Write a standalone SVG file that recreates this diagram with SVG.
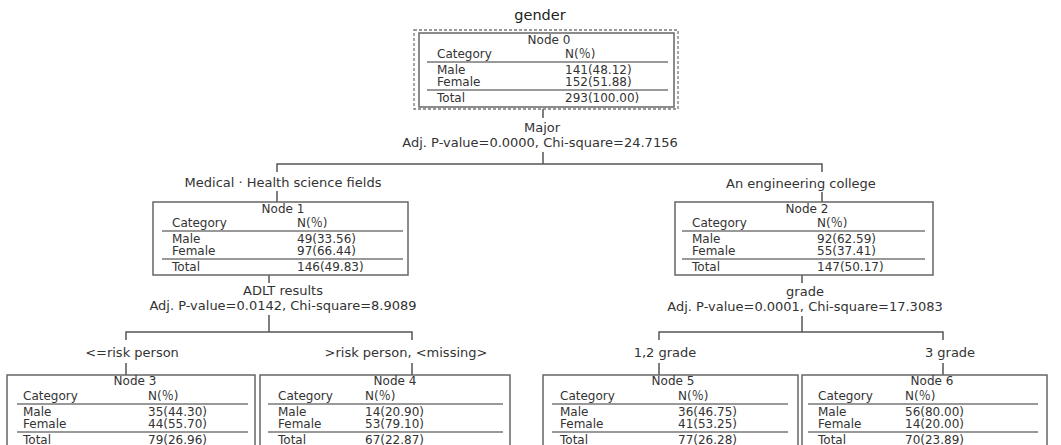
<svg xmlns="http://www.w3.org/2000/svg" width="1061" height="445" viewBox="0 0 1061 445">
<style>
text{font-family:"DejaVu Sans","Noto Sans CJK KR",sans-serif;fill:#333;}
.lbl{font-size:13px;text-anchor:middle;}
.ttl{font-size:14.5px;text-anchor:middle;fill:#222;}
.nt{font-size:12px;}
.c{text-anchor:middle;}
.fw{font-family:"Noto Sans CJK KR","Noto Sans CJK SC",sans-serif;}
.box{fill:#fff;stroke:#666;stroke-width:1.5;}
.dash{fill:none;stroke:#777;stroke-width:1.3;stroke-dasharray:3 2;}
.sep{stroke:#777;stroke-width:1.3;}
.con{fill:none;stroke:#555;stroke-width:1.5;}
</style>
<rect width="1061" height="445" fill="#fff"/>
<text class="ttl" x="540" y="20">gender</text>

<g id="connectors">
<path class="con" d="M543,109V118M543,152V164M277,172V164H822V172M277,191V202M822,192V202"/>
<path class="con" d="M269,275V283M269,315V332M126,340V332H412V340M126,363V375M412,363V375"/>
<path class="con" d="M802,275V283M802,316V332M659,340V332H943V340M659,363V375M943,363V375"/>
<text class="lbl" x="542" y="132">Major</text>
<text class="lbl" x="540" y="147">Adj. P-value=0.0000, Chi-square=24.7156</text>
<text class="lbl" x="283" y="187">Medical · Health science fields</text>
<text class="lbl" x="801" y="188">An engineering college</text>
<text class="lbl" x="283" y="295">ADLT results</text>
<text class="lbl" x="283" y="310">Adj. P-value=0.0142, Chi-square=8.9089</text>
<text class="lbl" x="805" y="296">grade</text>
<text class="lbl" x="805" y="311">Adj. P-value=0.0001, Chi-square=17.3083</text>
<text class="lbl" x="132" y="357">&lt;=risk person</text>
<text class="lbl" x="406" y="357">&gt;risk person, &lt;missing&gt;</text>
<text class="lbl" x="665" y="357">1,2 grade</text>
<text class="lbl" x="950" y="357">3 grade</text>
</g>

<g id="node0">
<rect class="dash" x="414" y="30" width="264" height="79"/>
<rect class="box" x="419" y="33" width="255" height="74"/>
<text class="nt c" x="549" y="44">Node 0</text>
<text class="nt" x="437" y="58">Category</text><text class="nt" x="565" y="58">N(<tspan class="fw">％</tspan>)</text>
<line class="sep" x1="427" y1="62" x2="668" y2="62"/>
<text class="nt" x="437" y="74">Male</text><text class="nt" x="565" y="74">141(48.12)</text>
<text class="nt" x="437" y="86">Female</text><text class="nt" x="565" y="86">152(51.88)</text>
<line class="sep" x1="427" y1="90" x2="668" y2="90"/>
<text class="nt" x="437" y="102">Total</text><text class="nt" x="565" y="102">293(100.00)</text>
</g>

<g id="node1">
<rect class="box" x="153" y="202" width="255" height="73"/>
<text class="nt c" x="283" y="213">Node 1</text>
<text class="nt" x="172" y="227">Category</text><text class="nt" x="297" y="227">N(<tspan class="fw">％</tspan>)</text>
<line class="sep" x1="162" y1="231" x2="403" y2="231"/>
<text class="nt" x="172" y="243">Male</text><text class="nt" x="297" y="243">49(33.56)</text>
<text class="nt" x="172" y="255">Female</text><text class="nt" x="297" y="255">97(66.44)</text>
<line class="sep" x1="162" y1="259" x2="403" y2="259"/>
<text class="nt" x="172" y="271">Total</text><text class="nt" x="297" y="271">146(49.83)</text>
</g>

<g id="node2">
<rect class="box" x="675" y="202" width="258" height="73"/>
<text class="nt c" x="807" y="213">Node 2</text>
<text class="nt" x="692" y="227">Category</text><text class="nt" x="817" y="227">N(<tspan class="fw">％</tspan>)</text>
<line class="sep" x1="682" y1="231" x2="925" y2="231"/>
<text class="nt" x="692" y="243">Male</text><text class="nt" x="817" y="243">92(62.59)</text>
<text class="nt" x="692" y="255">Female</text><text class="nt" x="817" y="255">55(37.41)</text>
<line class="sep" x1="682" y1="259" x2="925" y2="259"/>
<text class="nt" x="692" y="271">Total</text><text class="nt" x="817" y="271">147(50.17)</text>
</g>

<g id="node3">
<rect class="box" x="7" y="375" width="248" height="74"/>
<text class="nt c" x="135" y="385">Node 3</text>
<text class="nt" x="23" y="400">Category</text><text class="nt" x="148" y="400">N(<tspan class="fw">％</tspan>)</text>
<line class="sep" x1="17" y1="404" x2="248" y2="404"/>
<text class="nt" x="23" y="416">Male</text><text class="nt" x="148" y="416">35(44.30)</text>
<text class="nt" x="23" y="428">Female</text><text class="nt" x="148" y="428">44(55.70)</text>
<line class="sep" x1="17" y1="432" x2="248" y2="432"/>
<text class="nt" x="23" y="444">Total</text><text class="nt" x="148" y="444">79(26.96)</text>
</g>

<g id="node4">
<rect class="box" x="260" y="375" width="250" height="74"/>
<text class="nt c" x="395" y="385">Node 4</text>
<text class="nt" x="278" y="400">Category</text><text class="nt" x="365" y="400">N(<tspan class="fw">％</tspan>)</text>
<line class="sep" x1="268" y1="404" x2="503" y2="404"/>
<text class="nt" x="278" y="416">Male</text><text class="nt" x="365" y="416">14(20.90)</text>
<text class="nt" x="278" y="428">Female</text><text class="nt" x="365" y="428">53(79.10)</text>
<line class="sep" x1="268" y1="432" x2="503" y2="432"/>
<text class="nt" x="278" y="444">Total</text><text class="nt" x="365" y="444">67(22.87)</text>
</g>

<g id="node5">
<rect class="box" x="543" y="375" width="255" height="74"/>
<text class="nt c" x="673" y="385">Node 5</text>
<text class="nt" x="560" y="400">Category</text><text class="nt" x="678" y="400">N(<tspan class="fw">％</tspan>)</text>
<line class="sep" x1="552" y1="404" x2="788" y2="404"/>
<text class="nt" x="560" y="416">Male</text><text class="nt" x="678" y="416">36(46.75)</text>
<text class="nt" x="560" y="428">Female</text><text class="nt" x="678" y="428">41(53.25)</text>
<line class="sep" x1="552" y1="432" x2="788" y2="432"/>
<text class="nt" x="560" y="444">Total</text><text class="nt" x="678" y="444">77(26.28)</text>
</g>

<g id="node6">
<rect class="box" x="802" y="375" width="245" height="74"/>
<text class="nt c" x="932" y="385">Node 6</text>
<text class="nt" x="818" y="400">Category</text><text class="nt" x="905" y="400">N(<tspan class="fw">％</tspan>)</text>
<line class="sep" x1="808" y1="404" x2="1038" y2="404"/>
<text class="nt" x="818" y="416">Male</text><text class="nt" x="905" y="416">56(80.00)</text>
<text class="nt" x="818" y="428">Female</text><text class="nt" x="905" y="428">14(20.00)</text>
<line class="sep" x1="808" y1="432" x2="1038" y2="432"/>
<text class="nt" x="818" y="444">Total</text><text class="nt" x="905" y="444">70(23.89)</text>
</g>
</svg>
